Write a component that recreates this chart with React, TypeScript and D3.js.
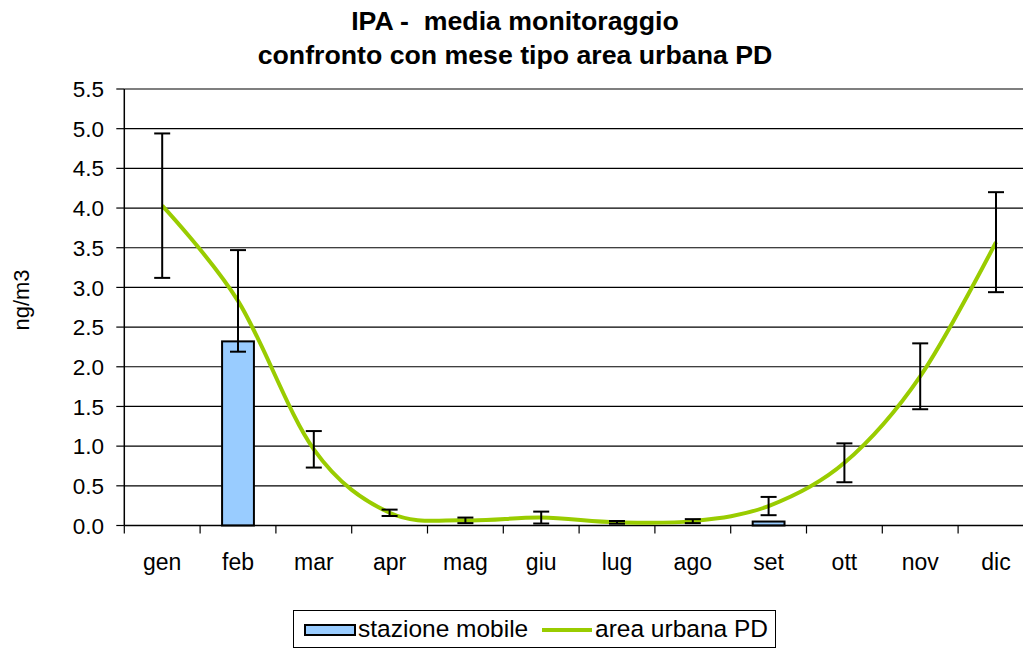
import React from "react";
import * as d3 from "d3";

const months = ["gen", "feb", "mar", "apr", "mag", "giu", "lug", "ago", "set", "ott", "nov", "dic"];
const stazioneMobile: (number | null)[] = [null, 2.32, null, null, null, null, null, null, 0.05, null, null, null];
const areaUrbana = [4.03, 2.83, 0.96, 0.16, 0.065, 0.10, 0.04, 0.055, 0.245, 0.79, 1.88, 3.57];
const areaUrbanaErr = [0.91, 0.64, 0.23, 0.04, 0.035, 0.075, 0.017, 0.025, 0.115, 0.245, 0.415, 0.63];
const yTicks = [0, 0.5, 1, 1.5, 2, 2.5, 3, 3.5, 4, 4.5, 5, 5.5];
const titleLines = ["IPA -  media monitoraggio", "confronto con mese tipo area urbana PD"];
const yLabel = "ng/m3";
const legendLabels = ["stazione mobile", "area urbana PD"];

const W = 1023;
const H = 649;
const left = 124.3;
const bandW = 75.8;
const right = left + bandW * 12;
const top = 89;
const bottom = 525.5;

const FONT = "'Liberation Sans', Arial, Helvetica, sans-serif";
const BAR_FILL = "#99CCFF";
const LINE_COLOR = "#99CC00";

export default function App() {
  const x = d3.scaleBand<string>().domain(months).range([left, right]).padding(0);
  const y = d3.scaleLinear().domain([0, 5.5]).range([bottom, top]);
  const cx = (m: string) => (x(m) as number) + x.bandwidth() / 2;
  const barW = x.bandwidth() * 0.42;

  const line = d3
    .line<number>()
    .x((_, i) => cx(months[i]))
    .y((d) => y(d))
    .curve(d3.curveCardinal.tension(0));

  const capHalf = 8;

  return (
    <svg
      width={W}
      height={H}
      style={{ position: "absolute", left: 0, top: 0, background: "#fff" }}
      fontFamily={FONT}
    >
      <rect x={0} y={0} width={W} height={H} fill="#fff" />
      {/* title */}
      <text x={515} y={30} textAnchor="middle" fontWeight="bold" fontSize={26.7} fill="#000" style={{ whiteSpace: "pre" }}>
        {titleLines[0]}
      </text>
      <text x={515} y={64} textAnchor="middle" fontWeight="bold" fontSize={26.7} fill="#000">
        {titleLines[1]}
      </text>

      {/* gridlines */}
      {yTicks.filter((t) => t > 0).map((t) => (
        <line key={"g" + t} x1={left} x2={right} y1={y(t)} y2={y(t)} stroke="#000" strokeWidth={1.2} />
      ))}

      {/* y ticks and labels */}
      {yTicks.map((t) => (
        <g key={"yt" + t}>
          <line x1={left - 8} x2={left} y1={y(t)} y2={y(t)} stroke="#000" strokeWidth={1.2} />
          <text x={104} y={y(t)} dy="0.36em" textAnchor="end" fontSize={22.5} fill="#000">
            {t.toFixed(1)}
          </text>
        </g>
      ))}

      {/* y axis label */}
      <text
        transform={`translate(29, ${300}) rotate(-90)`}
        textAnchor="middle"
        fontSize={22}
        fill="#000"
      >
        {yLabel}
      </text>

      {/* bars */}
      {stazioneMobile.map((v, i) =>
        v == null ? null : (
          <rect
            key={"b" + i}
            x={cx(months[i]) - barW / 2}
            y={y(v)}
            width={barW}
            height={y(0) - y(v)}
            fill={BAR_FILL}
            stroke="#000"
            strokeWidth={2}
          />
        )
      )}

      {/* axes */}
      <line x1={left} x2={left} y1={top} y2={bottom} stroke="#000" strokeWidth={1.5} />
      <line x1={left} x2={right} y1={bottom} y2={bottom} stroke="#000" strokeWidth={1.5} />
      {d3.range(13).map((i) => (
        <line
          key={"xt" + i}
          x1={left + i * x.bandwidth()}
          x2={left + i * x.bandwidth()}
          y1={bottom}
          y2={bottom + 8}
          stroke="#000"
          strokeWidth={1.2}
        />
      ))}
      {months.map((m) => (
        <text key={"xl" + m} x={cx(m)} y={570} textAnchor="middle" fontSize={23} fill="#000">
          {m}
        </text>
      ))}

      {/* line */}
      <path d={line(areaUrbana) || ""} fill="none" stroke={LINE_COLOR} strokeWidth={4} strokeLinejoin="round" />

      {/* error bars */}
      {areaUrbana.map((v, i) => {
        const xc = cx(months[i]);
        const y1 = y(v + areaUrbanaErr[i]);
        const y2 = y(v - areaUrbanaErr[i]);
        return (
          <g key={"e" + i} stroke="#000" strokeWidth={2}>
            <line x1={xc} x2={xc} y1={y1} y2={y2} />
            <line x1={xc - capHalf} x2={xc + capHalf} y1={y1} y2={y1} />
            <line x1={xc - capHalf} x2={xc + capHalf} y1={y2} y2={y2} />
          </g>
        );
      })}

      {/* legend */}
      <rect x={293.5} y={610.5} width={482} height={37} fill="#fff" stroke="#000" strokeWidth={1} />
      <rect x={305} y={625} width={50} height={10} fill={BAR_FILL} stroke="#000" strokeWidth={2} />
      <text x={358} y={637} fontSize={24.5} fill="#000">
        {legendLabels[0]}
      </text>
      <line x1={542} x2={592} y1={630} y2={630} stroke={LINE_COLOR} strokeWidth={4} />
      <text x={595} y={637} fontSize={24.5} fill="#000">
        {legendLabels[1]}
      </text>
    </svg>
  );
}
